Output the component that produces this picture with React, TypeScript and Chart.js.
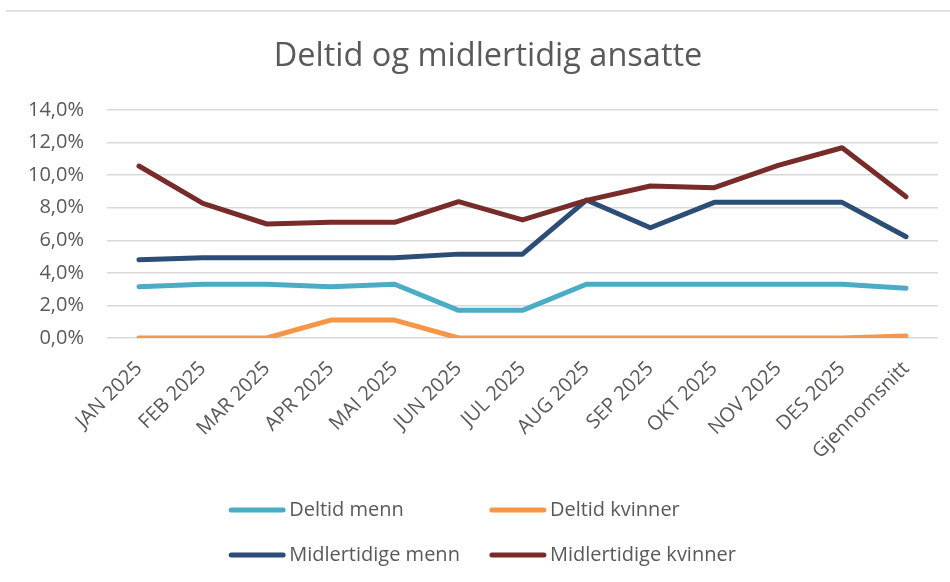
import React, { useEffect, useRef } from "react";
import { Chart, registerables } from "chart.js";

Chart.register(...registerables);

const categories = [
  "JAN 2025", "FEB 2025", "MAR 2025", "APR 2025", "MAI 2025", "JUN 2025", "JUL 2025",
  "AUG 2025", "SEP 2025", "OKT 2025", "NOV 2025", "DES 2025", "Gjennomsnitt",
];

const deltidMenn = [3.15, 3.3, 3.3, 3.15, 3.3, 1.7, 1.7, 3.3, 3.3, 3.3, 3.3, 3.3, 3.05];
const deltidKvinner = [0, 0, 0, 1.1, 1.1, 0, 0, 0, 0, 0, 0, 0, 0.12];
const midlertidigeMenn = [4.8, 4.93, 4.93, 4.93, 4.93, 5.15, 5.15, 8.47, 6.77, 8.33, 8.33, 8.33, 6.22];
const midlertidigeKvinner = [10.56, 8.27, 7.0, 7.1, 7.1, 8.37, 7.25, 8.45, 9.33, 9.23, 10.6, 11.68, 8.67];

const seriesNames = ["Deltid menn", "Deltid kvinner", "Midlertidige menn", "Midlertidige kvinner"];
const seriesColors = ["#4BACC6", "#F79646", "#2C4D75", "#772C2A"];

const yTickValues = [0, 2, 4, 6, 8, 10, 12, 14];
const titleText = "Deltid og midlertidig ansatte";

const FONT = "'Open Sans', sans-serif";
const TEXT_COLOR = "#595959";

const frameTitleLegend = {
  id: "frameTitleLegend",
  beforeDraw(chart: any) {
    const ctx = chart.ctx;
    ctx.save();
    ctx.strokeStyle = "#d9d9d9";
    ctx.lineWidth = 1.5;
    ctx.beginPath();
    ctx.moveTo(6, 11);
    ctx.lineTo(chart.width, 11);
    ctx.stroke();
    ctx.restore();
  },
  afterDraw(chart: any) {
    const ctx = chart.ctx;
    const ds = chart.data.datasets;
    ctx.save();
    // title
    ctx.font = `32.5px ${FONT}`;
    ctx.fillStyle = TEXT_COLOR;
    ctx.textAlign = "center";
    ctx.textBaseline = "middle";
    ctx.fillText(titleText, chart.width / 2 + 13, 56.5);
    // legend
    ctx.font = `20px ${FONT}`;
    const sample = 56, gap = 4, colGap = 30;
    const w = (i: number) => ctx.measureText(ds[i].label).width;
    const col1W = Math.max(w(0), w(2));
    const col2W = Math.max(w(1), w(3));
    const total = sample + gap + col1W + colGap + sample + gap + col2W;
    const startX = chart.width / 2 + 7.5 - total / 2;
    const colX = [startX, startX + sample + gap + col1W + colGap];
    const rowY = [chart.height - 72, chart.height - 27];
    ds.forEach((d: any, i: number) => {
      const x = colX[i % 2];
      const y = rowY[Math.floor(i / 2)];
      ctx.strokeStyle = d.borderColor;
      ctx.lineWidth = 5;
      ctx.lineCap = "round";
      ctx.beginPath();
      ctx.moveTo(x + 2, y);
      ctx.lineTo(x + sample - 2, y);
      ctx.stroke();
      ctx.fillStyle = TEXT_COLOR;
      ctx.textAlign = "left";
      ctx.textBaseline = "middle";
      ctx.fillText(d.label, x + sample + gap, y);
    });
    ctx.restore();
  },
};

export default function App() {
  const ref = useRef<HTMLCanvasElement | null>(null);

  useEffect(() => {
    document.body.style.margin = "0";
    const canvas = ref.current;
    if (!canvas) return;
    const series = [deltidMenn, deltidKvinner, midlertidigeMenn, midlertidigeKvinner];
    const chart = new Chart(canvas, {
      type: "line",
      data: {
        labels: categories,
        datasets: series.map((data, i) => ({
          label: seriesNames[i],
          data,
          borderColor: seriesColors[i],
          backgroundColor: seriesColors[i],
          borderWidth: 5,
          borderCapStyle: "round",
          borderJoinStyle: "round",
          pointRadius: 0,
          tension: 0,
          fill: false,
          order: 4 - i,
        })),
      },
      options: {
        responsive: false,
        animation: false,
        layout: { padding: { left: 0, right: 12, top: 110, bottom: 0 } },
        plugins: {
          legend: { display: false },
          tooltip: { enabled: false },
          title: { display: false },
        },
        scales: {
          x: {
            type: "category",
            offset: true,
            grid: { display: false, drawTicks: false },
            border: { display: false },
            ticks: {
              minRotation: 45,
              maxRotation: 45,
              autoSkip: false,
              padding: 19,
              color: TEXT_COLOR,
              font: { family: FONT, size: 20 },
            },
            afterFit(scale: any) {
              scale.height = 244;
            },
          },
          y: {
            min: 0,
            max: 14,
            afterBuildTicks(scale: any) {
              scale.ticks = yTickValues.map((v) => ({ value: v }));
            },
            grid: { color: "#d9d9d9", lineWidth: 1.5, drawTicks: false },
            border: { display: false },
            ticks: {
              padding: 23,
              color: TEXT_COLOR,
              font: { family: FONT, size: 20 },
              callback: (v: any) => Number(v).toFixed(1).replace(".", ",") + "%",
            },
            afterFit(scale: any) {
              scale.width = 107;
            },
          },
        },
      },
      plugins: [frameTitleLegend],
    });
    return () => chart.destroy();
  }, []);

  return (
    <div style={{ width: 950, height: 582, background: "#fff" }}>
      <canvas ref={ref} width={950} height={582} style={{ display: "block" }} />
    </div>
  );
}
